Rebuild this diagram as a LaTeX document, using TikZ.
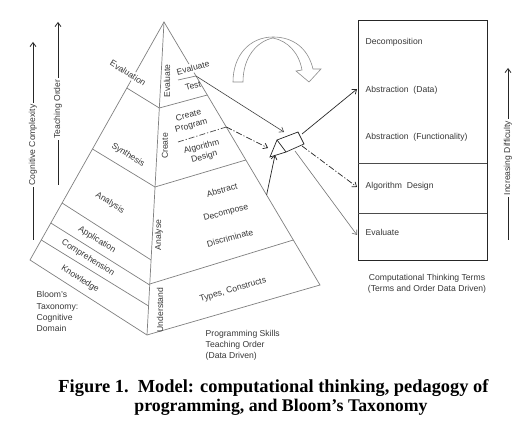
\documentclass[tikz,border=0pt]{standalone}
\usepackage{fontspec}
\setmainfont{Liberation Sans}
\newfontfamily\capfont{Liberation Serif}
\usetikzlibrary{arrows.meta}
\begin{document}
\begin{tikzpicture}[x=1pt,y=-1pt,
  pyr/.style={draw=black!50, line width=0.7pt},
  lbl/.style={font=\fontsize{8.6}{10.5}\selectfont, text=black!78, inner sep=0.5pt},
  conn/.style={draw=black!85, line width=0.7pt, -{Straight Barb[length=4pt,width=6pt]}},
  thinconn/.style={draw=black!55, line width=0.6pt, -{Straight Barb[length=4pt,width=6pt]}},
  dashdot/.style={dash pattern=on 6pt off 2pt on 1.2pt off 2pt},
  axis/.style={draw=black!85, line width=0.8pt, -{Straight Barb[length=4pt,width=6pt]}},
  axislbl/.style={font=\fontsize{8.6}{10.5}\selectfont, text=black!78, fill=white, inner sep=2pt, rotate=90},
  caption/.style={font=\capfont\bfseries\fontsize{17.8}{20}\selectfont, text=black, inner sep=0pt, anchor=base}
]
\useasboundingbox[fill=white] (0,0) rectangle (512,422);

% ---------- pyramid corners ----------
\coordinate (apex) at (164,22);
\coordinate (bl) at (30,260);
\coordinate (bc) at (147,335);
\coordinate (br) at (320,285);

% outline
\draw[pyr] (bl) -- (apex) -- (br) -- (bc) -- cycle;
\draw[pyr] (apex) -- (bc);

% left face bands
\coordinate (l1) at (126.8,88);  \coordinate (c1) at (159.3,108);
\coordinate (l2) at (92.5,149);  \coordinate (c2) at (155.0,187);
\coordinate (l3) at (62.1,203);  \coordinate (c3) at (151.1,260);
\coordinate (l4) at (50.8,223);  \coordinate (c4) at (149.7,285);
\coordinate (l5) at (41.3,240);  \coordinate (c5) at (148.6,306);
\draw[pyr] (l1) -- (c1);
\draw[pyr] (l2) -- (c2);
\draw[pyr] (l3) -- (c3);
\draw[pyr] (l4) -- (c4);
\draw[pyr] (l5) -- (c5);

% right face bands
\coordinate (r1) at (207.3,95);
\coordinate (r2) at (245.8,160);
\coordinate (c6) at (149.8,284);  \coordinate (r3) at (293.3,240);
\coordinate (et0) at (178,80);    \coordinate (et1) at (196,76);
\coordinate (cp0) at (178,142);   \coordinate (cp1) at (226.3,127);
\coordinate (ab0) at (266.6,195);
\draw[pyr] (c1) -- (r1);
\draw[pyr] (c2) -- (r2);
\draw[pyr] (c6) -- (r3);
\draw[pyr] (et0) -- (et1);
\draw[pyr, draw=black!70, dashdot] (cp0) -- (cp1);

% ---------- left face labels ----------
\node[lbl, rotate=-32, fill=white, inner sep=1.5pt] (tEvaluation) at (128,73) {Evaluation};
\node[lbl, rotate=-32] (tSynthesis) at (128,155) {Synthesis};
\node[lbl, rotate=-32] (tAnalysis) at (110,203) {Analysis};
\node[lbl, rotate=-32] (tApplication) at (97,240) {Application};
\node[lbl, rotate=-32] (tComprehension) at (88,258) {Comprehension};
\node[lbl, rotate=-32] (tKnowledge) at (80,279) {Knowledge};

% ---------- right face labels ----------
\node[lbl, rotate=90] (vEvaluate) at (167,81) {Evaluate};
\node[lbl, rotate=90] (vCreate) at (165,146) {Create};
\node[lbl, rotate=90] (vAnalyse) at (159,235) {Analyse};
\node[lbl, rotate=90] (vUnderstand) at (160,310) {Understand};
\node[lbl, rotate=15, fill=white, inner sep=1.5pt] (tEvaluate) at (193,68) {Evaluate};
\node[lbl, rotate=15] (tTest) at (193,86) {Test};
\node[lbl, rotate=15, align=center] (tCreateProg) at (190,121) {Create\\Program};
\node[lbl, rotate=15, align=center] (tAlgDesign) at (203,152) {Algorithm\\Design};
\node[lbl, rotate=15] (tAbstract) at (222,190) {Abstract};
\node[lbl, rotate=15] (tDecompose) at (226,213) {Decompose};
\node[lbl, rotate=15] (tDiscriminate) at (230,238) {Discriminate};
\node[lbl, rotate=16] (tTypes) at (233,290) {Types, Constructs};

% ---------- bottom texts ----------
\node[lbl, anchor=north west, align=left, font=\fontsize{8.6}{11.3}\selectfont] (bloom) at (36,291) {Bloom's\\Taxonomy:\\Cognitive\\Domain};
\node[lbl, anchor=north west, align=left, font=\fontsize{8.6}{10.8}\selectfont] (progskills) at (205,330) {Programming Skills\\Teaching Order\\(Data Driven)};
\node[lbl, align=center, font=\fontsize{8.6}{11.5}\selectfont] (ctterms) at (427,284) {Computational Thinking Terms\\(Terms and Order Data Driven)};

% ---------- left axis arrows ----------
\coordinate (cc0) at (33,240); \coordinate (cc1) at (33,42);
\draw[axis] (cc0) -- (cc1);
\node[axislbl] (tCog) at (33,145) {Cognitive Complexity};
\coordinate (to0) at (58,185); \coordinate (to1) at (58,22);
\draw[axis] (to0) -- (to1);
\node[axislbl] (tTeach) at (58,109) {Teaching Order};

% ---------- right box ----------
\node[draw=black!85, line width=0.8pt, minimum width=129pt, minimum height=240pt, inner sep=0pt, anchor=north west] (ctbox) at (358,20) {};
\coordinate (s1a) at (358,163); \coordinate (s1b) at (487,163);
\coordinate (s2a) at (358,213); \coordinate (s2b) at (487,213);
\draw[draw=black!70, line width=0.7pt] (s1a) -- (s1b);
\draw[draw=black!70, line width=0.7pt] (s2a) -- (s2b);
\node[lbl, anchor=west] (ctDecomp) at (365,42) {Decomposition};
\node[lbl, anchor=west] (ctAbsData) at (365,90) {Abstraction\ \ (Data)};
\node[lbl, anchor=west] (ctAbsFunc) at (365,137) {Abstraction\ \ (Functionality)};
\node[lbl, anchor=west] (ctAlg) at (365,186) {Algorithm\ \ Design};
\node[lbl, anchor=west] (ctEval) at (365,232) {Evaluate};

% right axis arrow
\coordinate (id0) at (508,240); \coordinate (id1) at (508,68);
\draw[axis] (id0) -- (id1);
\node[axislbl] (tIncr) at (508,158) {Increasing Difficulty};

% ---------- central tag box ----------
\coordinate (bx1) at (277,140);
\coordinate (bx2) at (298,132);
\coordinate (bx3) at (304,144);
\coordinate (bx4) at (286,152);
\coordinate (bx5) at (270,157);
\draw[draw=black!85, line width=0.7pt, fill=white] (bx1) -- (bx2) -- (bx3) -- (bx4) -- (bx5) -- cycle;
\draw[draw=black!85, line width=0.7pt] (bx1) -- (bx4);

% arrows into the box
\coordinate (in1) at (284,132);
\coordinate (in2) at (268,148);
\coordinate (in3) at (275,155);
\draw[thinconn, draw=black!75] (et1) -- (in1);
\draw[conn, dashdot] (cp1) -- (in2);
\draw[conn] (ab0) -- (in3);

% arrows out of the box
\coordinate (o1) at (302,134);
\coordinate (o2) at (302,146);
\coordinate (o3) at (295,151);
\coordinate (e1) at (357,89);
\coordinate (e2) at (357,187);
\coordinate (e3) at (357,235);
\draw[conn] (o1) -- (e1);
\draw[conn, dashdot] (o2) -- (e2);
\draw[thinconn] (o3) -- (e3);

% ---------- curved hollow arrow ----------
\draw[draw=black!45, line width=0.6pt, fill=white]
  (233,82) -- (243,82)
  .. controls (243,56) and (258,41) .. (273,38)
  .. controls (288,41) and (299,53) .. (302,70)
  -- (296,71) -- (309,82) -- (321,69) -- (313,69)
  .. controls (308,48) and (293,37) .. (273,37)
  .. controls (250,37) and (233,55) .. (233,82) -- cycle;

% ---------- caption ----------
\node[caption, font=\capfont\bfseries\fontsize{18.4}{20}\selectfont] (cap1) at (273.5,392) {Figure 1.\ \ Model: computational thinking, pedagogy of};
\node[caption] (cap2) at (281,411) {programming, and Bloom’s Taxonomy};
\end{tikzpicture}
\end{document}
